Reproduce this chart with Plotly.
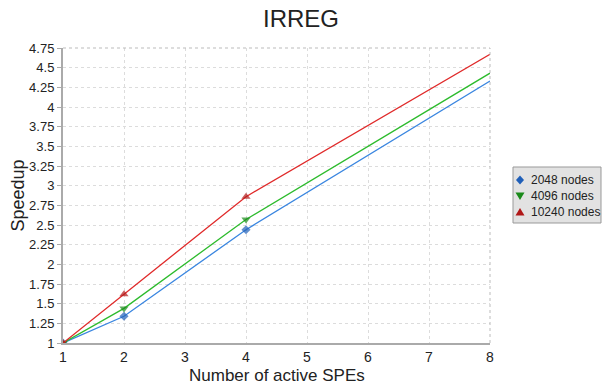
import plotly.graph_objects as go

spes = [1, 2, 4, 8]
s2048 = [1.0, 1.34, 2.44, 4.33]
s4096 = [1.0, 1.44, 2.57, 4.43]
s10240 = [1.0, 1.62, 2.86, 4.67]
names = ["2048 nodes", "4096 nodes", "10240 nodes"]
yticks = [1, 1.25, 1.5, 1.75, 2, 2.25, 2.5, 2.75, 3, 3.25, 3.5, 3.75, 4, 4.25, 4.5, 4.75]

W, H = 602, 385
L, R, T, B = 63, 112, 48, 42
PW, PH = W - L - R, H - T - B


def px(fx):
    return (fx - L) / PW


def py(fy):
    return (H - B - fy) / PH


fig = go.Figure()
styles = [
    (s2048, "#3a86e0", "#1f5fb8", "diamond", 7, "M0,4.5 L4,0 L0,-4.5 L-4,0 Z"),
    (s4096, "#2dbb2d", "#1a8a1a", "triangle-down", 8, "M-4.5,3.5 L4.5,3.5 L0,-4 Z"),
    (s10240, "#e02a2a", "#b01818", "triangle-up", 8, "M-4.5,-3.5 L4.5,-3.5 L0,4 Z"),
]
for name, (vals, lc, mc, sym, ms, _) in zip(names, styles):
    fig.add_trace(go.Scatter(
        x=spes, y=vals, name=name, mode="lines+markers", showlegend=False,
        line=dict(color=lc, width=1.3),
        marker=dict(symbol=sym, color=mc, size=[ms, ms, ms, 0], line=dict(width=0)),
    ))

fig.update_layout(
    width=W, height=H,
    margin=dict(l=L, r=R, t=T, b=B, autoexpand=False),
    paper_bgcolor="white", plot_bgcolor="white",
    font=dict(family="Liberation Sans, Arial, sans-serif", color="#222"),
    title=dict(text="IRREG", x=0.5, xanchor="center", y=1 - 19 / H, yanchor="middle",
               font=dict(size=24)),
    showlegend=False,
    xaxis=dict(range=[1, 8], tickvals=list(range(1, 9)), showgrid=True,
               gridcolor="#dcdcdc", griddash="dot", zeroline=False, automargin=False,
               showline=True, linecolor="#aaaaaa", linewidth=2, mirror=False,
               ticks="", tickfont=dict(size=14)),
    yaxis=dict(range=[1, 4.75], tickvals=yticks, automargin=False,
               ticktext=[f"{v:g}" for v in yticks], showgrid=True,
               gridcolor="#dcdcdc", griddash="dot", zeroline=False,
               showline=True, linecolor="#aaaaaa", linewidth=2,
               ticks="outside", ticklen=4, tickcolor="#aaa",
               tickfont=dict(size=13)),
)
# dotted top and right borders
fig.add_shape(type="line", xref="paper", yref="paper", x0=0, x1=1, y0=1, y1=1,
              line=dict(color="#bbbbbb", width=1, dash="dot"))
fig.add_shape(type="line", xref="paper", yref="paper", x0=1, x1=1, y0=0, y1=1,
              line=dict(color="#bbbbbb", width=1, dash="dot"))
# axis titles
fig.add_annotation(text="Number of active SPEs", xref="paper", yref="paper",
                   x=0.5, y=py(375), xanchor="center", yanchor="middle", showarrow=False,
                   font=dict(size=17))
fig.add_annotation(text="Speedup", xref="paper", yref="paper", x=px(17), y=0.5,
                   xanchor="center", yanchor="middle", textangle=-90, showarrow=False,
                   font=dict(size=18))
# legend box
fig.add_shape(type="rect", xref="paper", yref="paper", x0=px(513), x1=px(601),
              y0=py(167), y1=py(223), fillcolor="#e2e2e2",
              line=dict(color="#999999", width=1), layer="below")
rows = [180, 196, 212]
for name, (vals, lc, mc, sym, ms, path), fy in zip(names, styles, rows):
    fig.add_shape(type="path", xref="paper", yref="paper", xsizemode="pixel",
                  ysizemode="pixel", xanchor=px(520), yanchor=py(fy), path=path,
                  fillcolor=mc, line=dict(width=0))
    fig.add_annotation(text=name, xref="paper", yref="paper", x=px(529), y=py(fy),
                       xanchor="left", yanchor="middle", showarrow=False,
                       font=dict(size=12, color="#222"))

fig.write_html(
    "out.html",
    config={"displayModeBar": False},
    post_script="document.body.style.margin='0';document.body.style.overflow='hidden';",
)
